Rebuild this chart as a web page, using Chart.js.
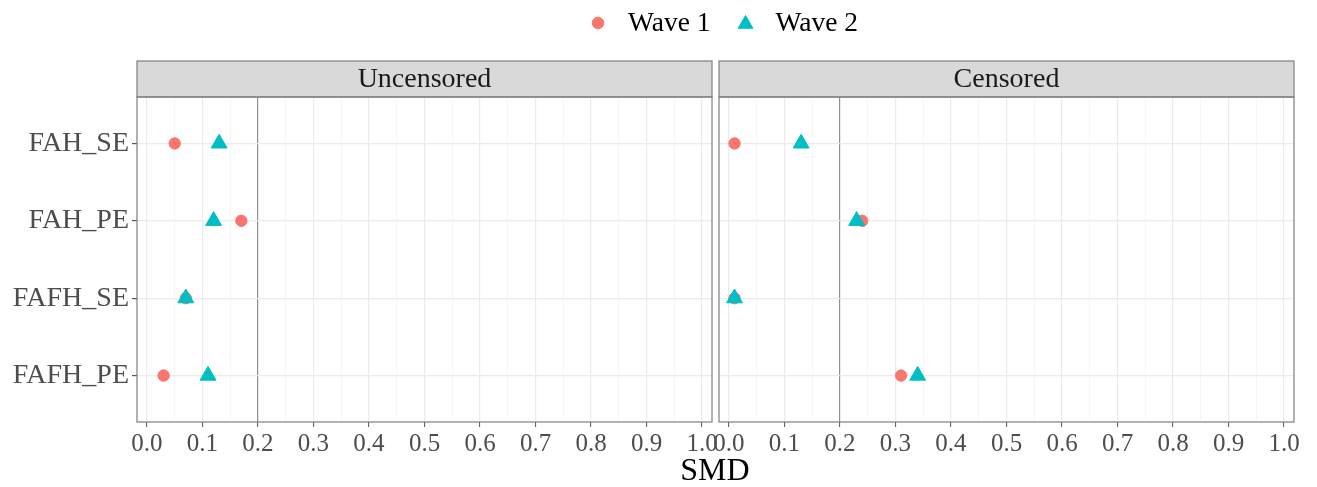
<!DOCTYPE html>
<html>
<head>
<meta charset="utf-8">
<script src="https://cdn.jsdelivr.net/npm/chart.js@4.4.1/dist/chart.umd.min.js"></script>
<style>
html, body { margin:0; padding:0; background:#fff; }
#wrap { position:relative; width:1317px; height:487px; }
#wrap canvas { position:absolute; left:0; top:0; width:1317px; height:487px; }
</style>
</head>
<body>
<div id="wrap">
  <canvas id="left" width="1317" height="487"></canvas>
  <canvas id="right" width="1317" height="487"></canvas>
</div>
<script>
/* ---------------- DATA ---------------- */
const CATEGORIES = ["FAH_SE", "FAH_PE", "FAFH_SE", "FAFH_PE"];
const UNCENSORED_WAVE1 = [0.05, 0.17, 0.07, 0.03];
const UNCENSORED_WAVE2 = [0.13, 0.12, 0.07, 0.11];
const CENSORED_WAVE1   = [0.01, 0.24, 0.01, 0.31];
const CENSORED_WAVE2   = [0.13, 0.23, 0.01, 0.34];
const X_TICKS = [0.0, 0.1, 0.2, 0.3, 0.4, 0.5, 0.6, 0.7, 0.8, 0.9, 1.0];
const X_MINOR = [0.05, 0.15, 0.25, 0.35, 0.45, 0.55, 0.65, 0.75, 0.85, 0.95];
const THRESHOLD = 0.2;
const SERIES_NAMES = ["Wave 1", "Wave 2"];
/* -------------------------------------- */

const COLORS = ["#F8766D", "#00BFC4"];
const STYLES = ["circle", "triangle"];
const RADII  = [5.7, 9.2];
const FONT = "'Liberation Serif', 'Times New Roman', serif";
Chart.defaults.font.family = FONT;

const X_GRID = X_TICKS.concat(X_MINOR).sort((a, b) => a - b);
const isMajor = v => X_TICKS.some(t => Math.abs(t - v) < 1e-9);

function toPoints(values){
    return values.map((v, i) => ({ x: v, y: i }));
}

function drawMarker(ctx, style, r, x, y, color){
    ctx.save();
    ctx.fillStyle = color;
    ctx.strokeStyle = color;
    if (Chart.helpers && Chart.helpers.drawPoint) {
        Chart.helpers.drawPoint(ctx, { pointStyle: style, radius: r, rotation: 0, borderWidth: 1 }, x, y);
    } else {
        ctx.beginPath();
        if (style === "circle") ctx.arc(x, y, r, 0, Math.PI * 2);
        else { ctx.moveTo(x, y - r); ctx.lineTo(x + r * 0.866, y + r / 2); ctx.lineTo(x - r * 0.866, y + r / 2); ctx.closePath(); }
        ctx.fill();
    }
    ctx.restore();
}

/* strip + panel border */
const panelPlugin = {
    id: "panel",
    afterDatasetsDraw(chart, args, opts){
        const a = chart.chartArea, ctx = chart.ctx;
        ctx.save();
        // strip
        ctx.fillStyle = "#d9d9d9";
        ctx.fillRect(a.left, a.top - 36, a.right - a.left, 36);
        ctx.strokeStyle = "#7f7f7f";
        ctx.lineWidth = 1.2;
        ctx.strokeRect(a.left, a.top - 36, a.right - a.left, 36);
        ctx.fillStyle = "#1a1a1a";
        ctx.font = "28px " + FONT;
        ctx.textAlign = "center";
        ctx.textBaseline = "middle";
        ctx.fillText(opts.title, (a.left + a.right) / 2, a.top - 17);
        // border
        ctx.strokeRect(a.left, a.top, a.right - a.left, a.bottom - a.top);
        ctx.restore();
    }
};

/* shared legend and axis title, drawn once */
const figurePlugin = {
    id: "figure",
    afterDraw(chart){
        const ctx = chart.ctx;
        ctx.save();
        ctx.font = "27.5px " + FONT;
        ctx.textBaseline = "middle";
        ctx.fillStyle = "#000";
        let x = 598;
        SERIES_NAMES.forEach((name, i) => {
            drawMarker(ctx, STYLES[i], i === 0 ? 5.8 : 8.5, x, i === 0 ? 23 : 24, COLORS[i]);
            ctx.fillText(name, x + 30, 24);
            x += 30 + ctx.measureText(name).width + 35;
        });
        ctx.font = "32px " + FONT;
        ctx.textAlign = "center";
        ctx.fillText("SMD", 715, 472);
        ctx.restore();
    }
};

function makeChart(id, title, w1, w2, padding, showY, extraPlugins){
    return new Chart(document.getElementById(id), {
        type: "scatter",
        data: {
            datasets: [
                { label: SERIES_NAMES[0], data: toPoints(w1), order: 2,
                  pointStyle: STYLES[0], pointRadius: RADII[0],
                  backgroundColor: COLORS[0], borderColor: COLORS[0], borderWidth: 1 },
                { label: SERIES_NAMES[1], data: toPoints(w2), order: 1,
                  pointStyle: STYLES[1], pointRadius: RADII[1],
                  backgroundColor: COLORS[1], borderColor: COLORS[1], borderWidth: 1 }
            ]
        },
        options: {
            responsive: false,
            animation: false,
            devicePixelRatio: 1,
            layout: { padding: padding },
            plugins: {
                legend: { display: false },
                tooltip: { enabled: false },
                panel: { title: title }
            },
            scales: {
                x: {
                    type: "linear",
                    min: -0.018, max: 1.018,
                    afterBuildTicks: s => { s.ticks = X_GRID.map(v => ({ value: v })); },
                    afterFit: s => { s.height = 65; },
                    border: { display: false },
                    grid: {
                        color: c => Math.abs(c.tick.value - THRESHOLD) < 1e-9 ? "#8f8f8f"
                                   : (isMajor(c.tick.value) ? "#ebebeb" : "#f4f4f4"),
                        lineWidth: c => isMajor(c.tick.value) ? 1.2 : 0.8,
                        tickLength: 5,
                        tickWidth: 1,
                        tickColor: c => isMajor(c.tick.value) ? "#555" : "rgba(0,0,0,0)"
                    },
                    ticks: {
                        autoSkip: false, maxRotation: 0, minRotation: 0,
                        padding: 2, color: "#4d4d4d", font: { size: 25 },
                        callback: v => isMajor(v) ? v.toFixed(1) : ""
                    }
                },
                y: {
                    type: "linear",
                    reverse: true,
                    min: -0.6, max: 3.6,
                    afterBuildTicks: s => { s.ticks = CATEGORIES.map((c, i) => ({ value: i })); },
                    afterFit: s => { s.width = showY ? 137 : 0; },
                    border: { display: false },
                    grid: { color: "#ebebeb", lineWidth: 1.2, tickLength: 5, drawTicks: showY, tickColor: "#555" },
                    ticks: {
                        display: showY, padding: 3, color: "#4d4d4d", font: { size: 28 },
                        callback: v => CATEGORIES[v]
                    }
                }
            }
        },
        plugins: [panelPlugin].concat(extraPlugins)
    });
}

makeChart("left", "Uncensored", UNCENSORED_WAVE1, UNCENSORED_WAVE2,
          { left: 0, right: 1317 - 712, top: 97, bottom: 0 }, true, [figurePlugin]);
makeChart("right", "Censored", CENSORED_WAVE1, CENSORED_WAVE2,
          { left: 719, right: 1317 - 1294, top: 97, bottom: 0 }, false, []);
</script>
</body>
</html>
